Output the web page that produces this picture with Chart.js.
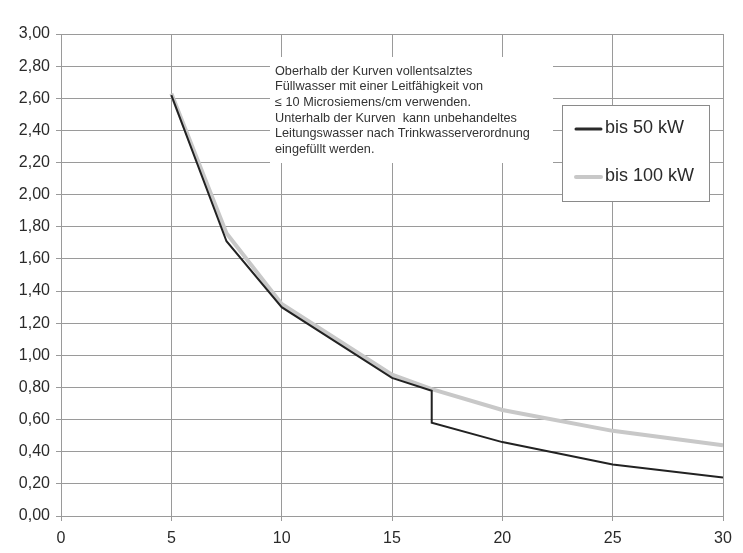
<!DOCTYPE html>
<html lang="de">
<head>
<meta charset="UTF-8">
<title>Füllwasser</title>
<script src="https://cdn.jsdelivr.net/npm/chart.js@4/dist/chart.umd.min.js"></script>
<style>
   html, body { margin: 0; padding: 0; background: #fff; }
   #wrap { width: 743px; height: 553px; }
</style>
</head>
<body>
<div id="wrap"><canvas id="myChart" width="743" height="553"></canvas></div>
<script>
   // Werte
   var xs50  = [5, 7.5, 10, 15, 16.8, 16.8, 20, 25, 30];
   var ys50  = [2.62, 1.71, 1.30, 0.86, 0.78, 0.58, 0.46, 0.32, 0.24];
   var xs100 = [5, 7.5, 10, 15, 16.8, 20, 25, 30];
   var ys100 = [2.63, 1.76, 1.32, 0.88, 0.79, 0.66, 0.53, 0.44];
   var seriesNames = ['bis 50 kW', 'bis 100 kW'];
   var noteLines = [
      'Oberhalb der Kurven vollentsalztes',
      'Füllwasser mit einer Leitfähigkeit von',
      '≤ 10 Microsiemens/cm verwenden.',
      'Unterhalb der Kurven  kann unbehandeltes',
      'Leitungswasser nach Trinkwasserverordnung',
      'eingefüllt werden.'
   ];

   function toPoints(xs, ys) {
      return xs.map(function (x, i) { return { x: x, y: ys[i] }; });
   }

   var gridColor = '#9a9a9a';
   var txtColor = '#2a2a2a';
   var fontFam = '"Liberation Sans", Arial, sans-serif';

   // Hinweistext + Legende als eigene Kästen (verdecken das Gitter)
   var boxPlugin = {
      id: 'boxes',
      beforeDatasetsDraw: function (chart) {
         var c = chart.ctx;
         c.save();
         // Hinweistext
         c.fillStyle = '#fff';
         c.fillRect(270, 57, 283, 106);
         c.fillStyle = '#333';
         c.font = '12.7px ' + fontFam;
         c.textBaseline = 'top';
         noteLines.forEach(function (t, i) {
            c.fillText(t, 275, 65 + i * 15.6);
         });
         // Legende
         c.fillStyle = '#fff';
         c.fillRect(562, 105, 148, 97);
         c.strokeStyle = '#8a8a8a';
         c.lineWidth = 1;
         c.strokeRect(562.5, 105.5, 147, 96);
         c.lineCap = 'round';
         c.strokeStyle = '#2a2a2a';
         c.lineWidth = 3;
         c.beginPath(); c.moveTo(576, 129); c.lineTo(601, 129); c.stroke();
         c.strokeStyle = '#c8c8c8';
         c.lineWidth = 4;
         c.beginPath(); c.moveTo(576, 177); c.lineTo(601, 177); c.stroke();
         c.fillStyle = txtColor;
         c.font = '18px ' + fontFam;
         c.textBaseline = 'middle';
         c.fillText(seriesNames[0], 605, 128);
         c.fillText(seriesNames[1], 605, 176);
         c.restore();
      }
   };

   var ctx = document.getElementById('myChart').getContext('2d');
   var myChart = new Chart(ctx, {
      type: 'scatter',
      plugins: [boxPlugin],
      data: {
         datasets: [{
            label: seriesNames[1],
            data: toPoints(xs100, ys100),
            showLine: true,
            borderColor: '#c8c8c8',
            borderWidth: 4,
            pointRadius: 0,
            tension: 0,
            order: 2
         }, {
            label: seriesNames[0],
            data: toPoints(xs50, ys50),
            showLine: true,
            borderColor: '#222',
            borderWidth: 2,
            pointRadius: 0,
            tension: 0,
            order: 1
         }]
      },
      options: {
         responsive: false,
         animation: false,
         layout: { padding: { top: 34, right: 20, left: 0, bottom: 0 } },
         plugins: {
            legend: { display: false },
            tooltip: { enabled: false }
         },
         scales: {
            x: {
               type: 'linear',
               min: 0,
               max: 30,
               afterFit: function (s) { s.height = 37; },
               ticks: {
                  stepSize: 5,
                  padding: 8,
                  color: txtColor,
                  font: { family: fontFam, size: 16 }
               },
               grid: { color: gridColor, tickLength: 5 },
               border: { color: gridColor }
            },
            y: {
               min: 0,
               max: 3,
               afterFit: function (s) { s.width = 61; },
               ticks: {
                  stepSize: 0.2,
                  padding: 6,
                  color: txtColor,
                  font: { family: fontFam, size: 16 },
                  callback: function (v) { return v.toFixed(2).replace('.', ','); }
               },
               grid: { color: gridColor, tickLength: 5 },
               border: { color: gridColor }
            }
         }
      }
   });
</script>
</body>
</html>
